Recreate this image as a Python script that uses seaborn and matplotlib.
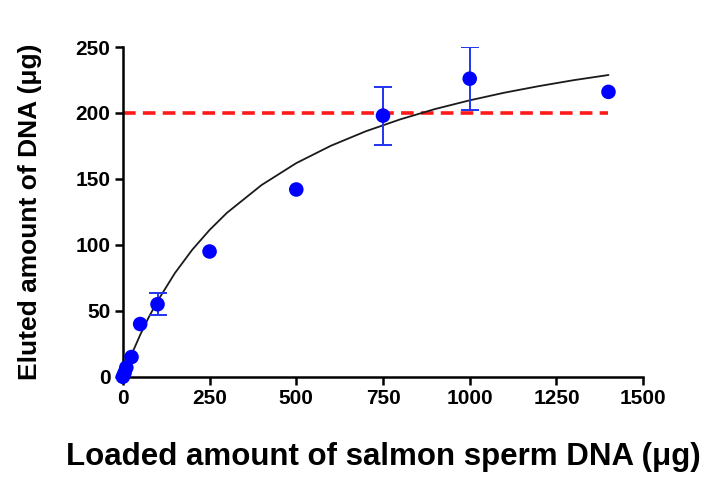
import matplotlib
matplotlib.use("Agg")
import matplotlib.pyplot as plt
import numpy as np
import pandas as pd
import seaborn as sns

# measured points (loaded vs eluted DNA, ug)
loaded = [0, 5, 10, 25, 50, 100, 250, 500, 750, 1000, 1400]
eluted = [0, 3, 7, 15, 40, 55, 95, 142, 198, 226, 216]
err = [0, 0, 0, 0, 0, 8.5, 0, 0, 22, 24, 0]

# fitted saturation curve
curve_x = [0, 10, 25, 50, 75, 100, 150, 200, 250, 300, 400, 500, 600, 700,
           800, 900, 1000, 1100, 1200, 1300, 1400]
curve_y = [0, 7, 16.8, 31.8, 45.3, 57.4, 78.6, 96.3, 111.3, 124.3, 145.4, 162,
           175.2, 186.1, 195.2, 203, 209.6, 215.4, 220.4, 224.9, 228.8]

capacity = 200

df = pd.DataFrame({"loaded": loaded, "eluted": eluted, "err": err})
fit = pd.DataFrame({"x": curve_x, "y": curve_y})

sns.set_style("ticks", {"axes.edgecolor": "black", "text.color": "black",
                        "xtick.color": "black", "ytick.color": "black",
                        "axes.labelcolor": "black"})
plt.rcParams["font.family"] = ["Liberation Sans", "DejaVu Sans"]
plt.rcParams["font.weight"] = "bold"

fig = plt.figure(figsize=(7.06, 4.80), dpi=100)
ax = fig.add_axes([0.174, 0.215, 0.737, 0.687])

ax.plot([0, 1400], [capacity, capacity], color="#ff1a1a", lw=2.6,
        dashes=(3.5, 2), zorder=1)
sns.lineplot(data=fit, x="x", y="y", color="#1a1a1a", lw=1.3, ax=ax, zorder=2)

e = df[df["err"] > 0]
ax.errorbar(e["loaded"], e["eluted"], yerr=e["err"], fmt="none",
            ecolor="#2233ee", elinewidth=1.4, capsize=6.5, capthick=1.4, zorder=3)
sns.scatterplot(data=df, x="loaded", y="eluted", color="#0000ff", s=110,
                edgecolor="none", ax=ax, zorder=4, clip_on=False)

ax.set_xlim(0, 1500)
ax.set_ylim(0, 250)
ax.set_xticks([0, 250, 500, 750, 1000, 1250, 1500])
ax.set_yticks([0, 50, 100, 150, 200, 250])
sns.despine(ax=ax)
for s in ["left", "bottom"]:
    ax.spines[s].set_linewidth(1.8)
ax.tick_params(width=1.8, length=6, labelsize=15, pad=3)
for t in ax.get_xticklabels() + ax.get_yticklabels():
    t.set_fontweight("bold")

ax.set_xlabel("Loaded amount of salmon sperm DNA (μg)", fontsize=22.5,
              fontweight="bold", labelpad=24)
ax.set_ylabel("Eluted amount of DNA (μg)", fontsize=19, fontweight="bold",
              labelpad=24)

fig.savefig("out.png", dpi=100)
